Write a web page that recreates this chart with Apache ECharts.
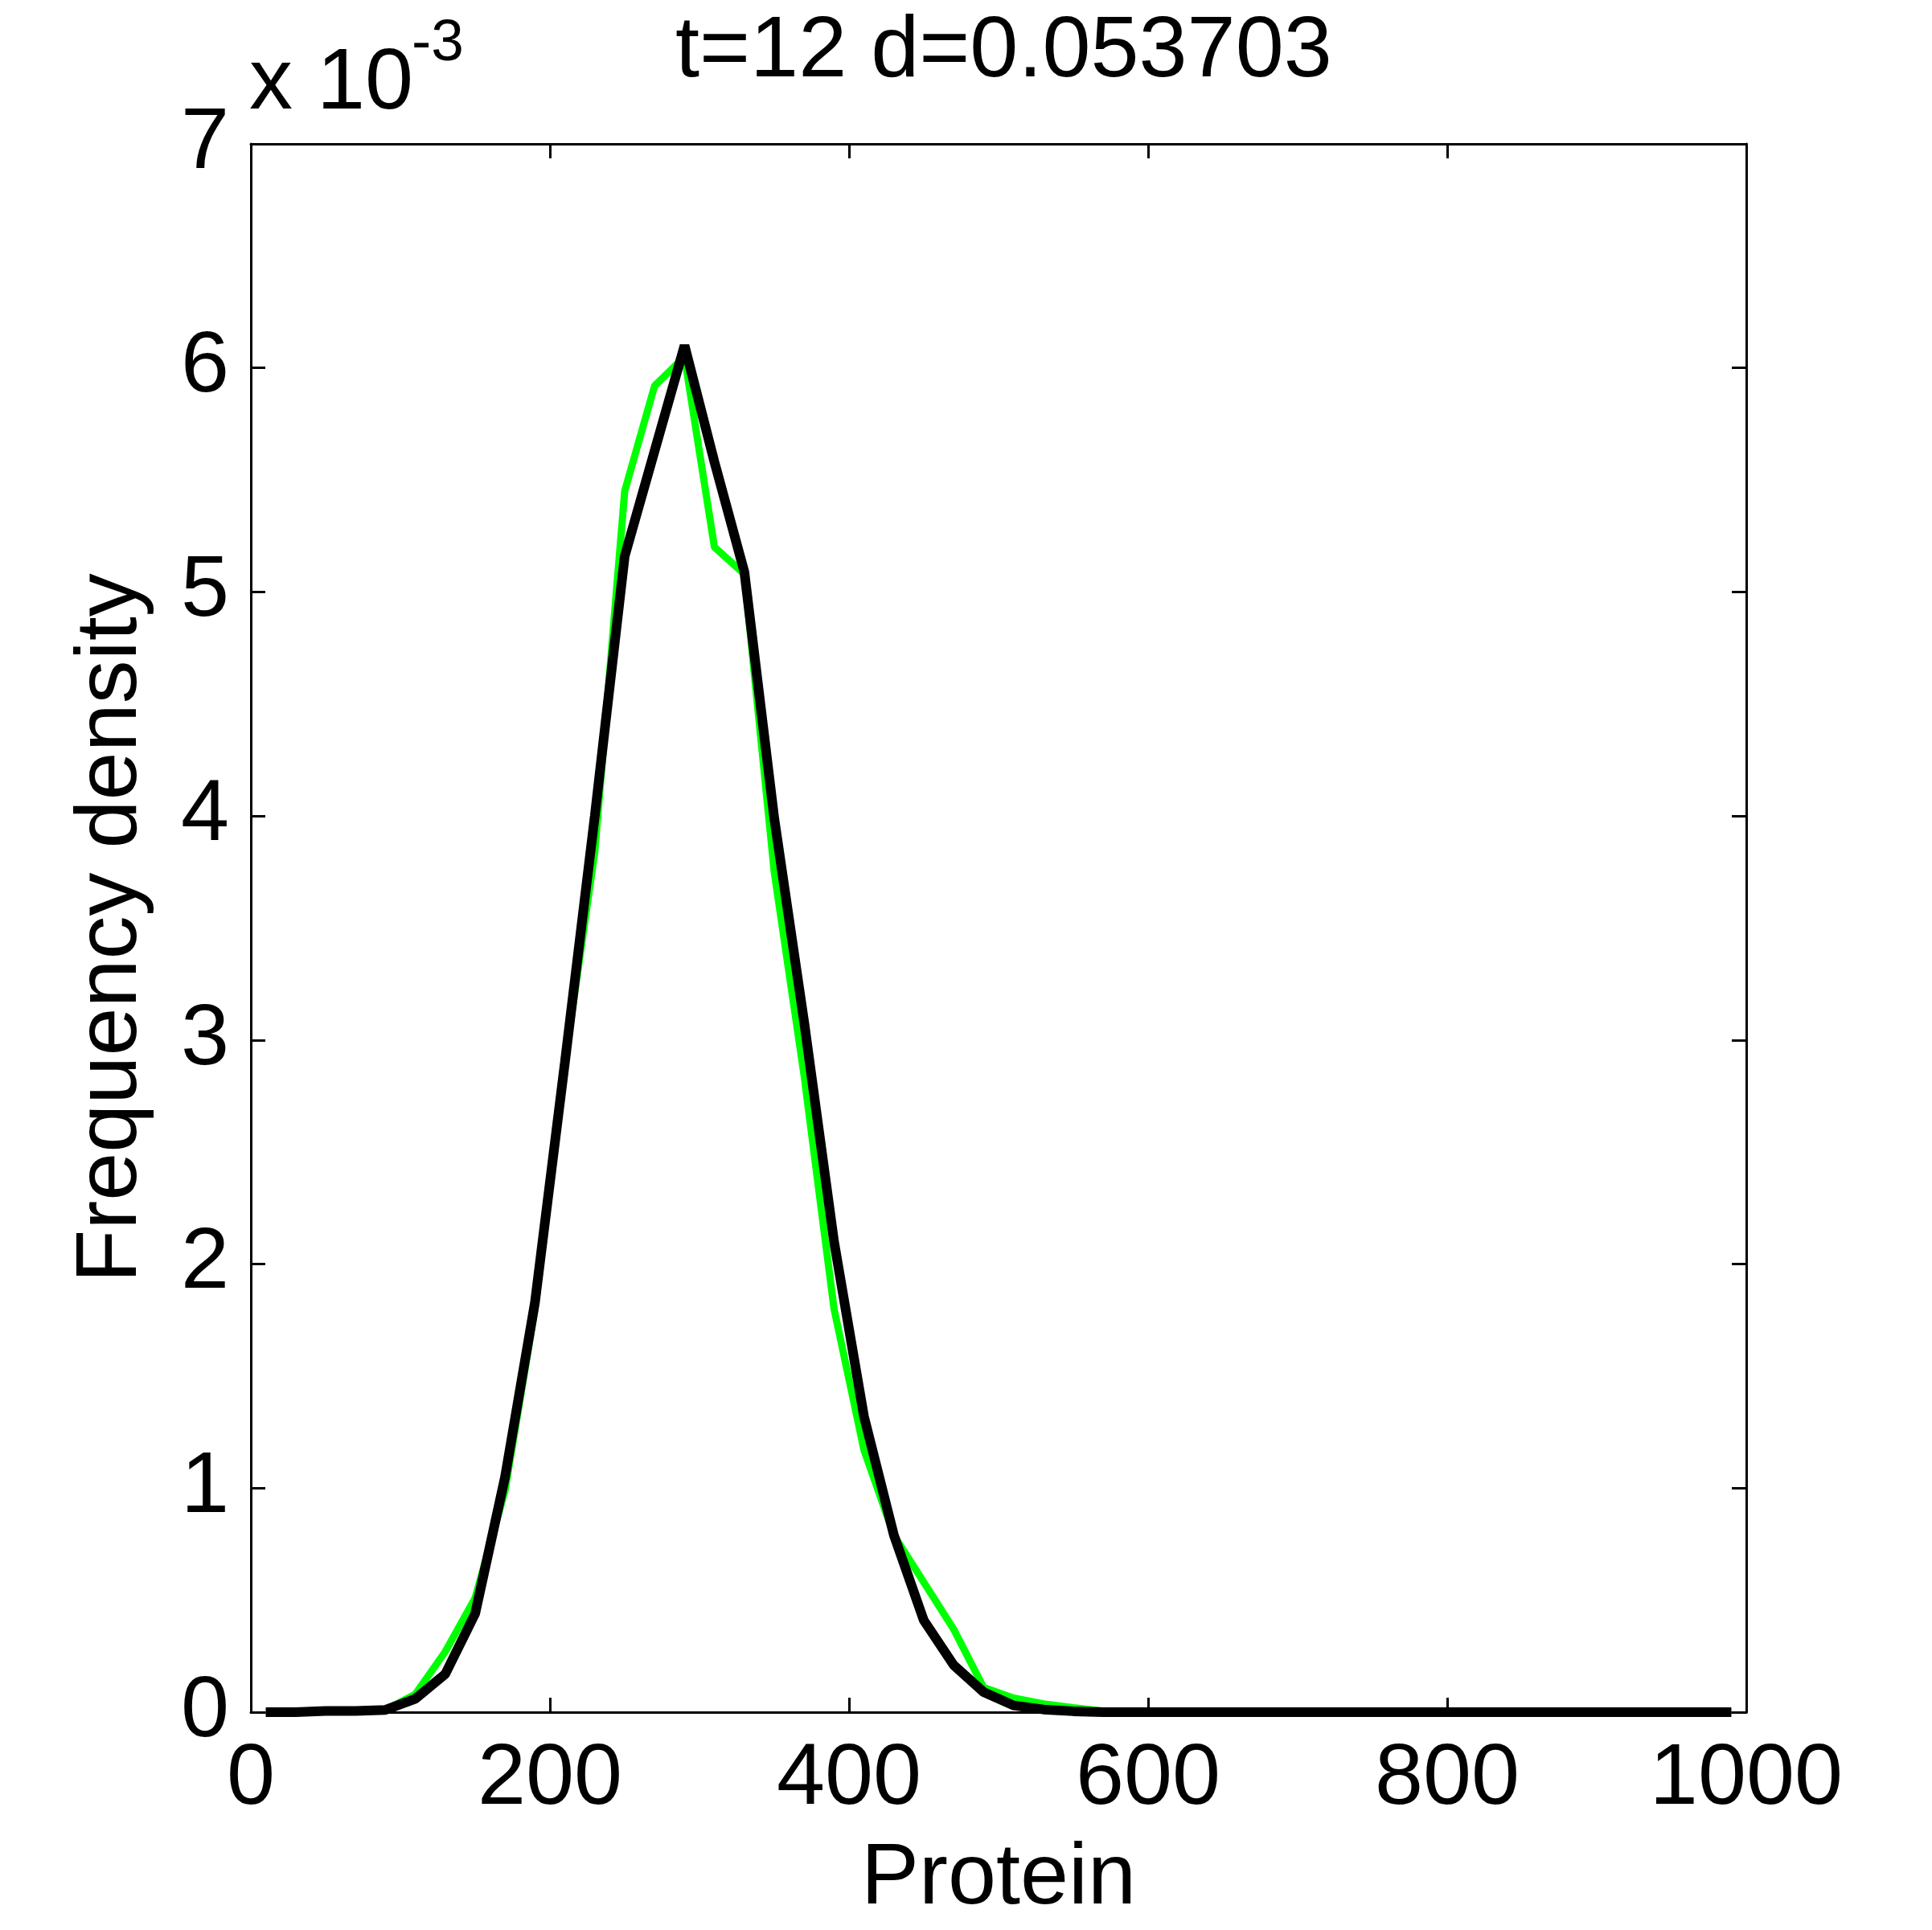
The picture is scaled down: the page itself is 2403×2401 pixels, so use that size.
<!DOCTYPE html>
<html>
<head>
<meta charset="utf-8">
<script src="https://cdn.jsdelivr.net/npm/echarts@6/dist/echarts.min.js"></script>
<style>
  html, body { margin: 0; padding: 0; background: #fff; }
  #chart { width: 2403px; height: 2401px; }
</style>
</head>
<body>
<div id="chart"></div>
<script>
// bin centres (Protein)
const protein = [10, 30, 50, 70, 90, 110, 130, 150, 170, 190, 210, 230, 250, 270, 290, 310, 330, 350, 370, 390,
  410, 430, 450, 470, 490, 510, 530, 550, 570, 590, 610, 630, 650, 670, 690, 710, 730, 750, 770, 790,
  810, 830, 850, 870, 890, 910, 930, 950, 970, 990];

// frequency density, in units of 1e-3
const greenDensity = [0, 0, 0.003, 0.005, 0.01, 0.08, 0.27, 0.51, 0.99, 1.8, 2.9, 3.84, 5.45, 5.92, 6.05, 5.2, 5.08, 3.75, 2.84, 1.8,
  1.17, 0.79, 0.58, 0.37, 0.11, 0.063, 0.037, 0.02, 0.005, 0.002, 0, 0, 0, 0, 0, 0, 0, 0, 0, 0,
  0, 0, 0, 0, 0, 0, 0, 0, 0, 0];
const blackDensity = [0, 0, 0.005, 0.005, 0.01, 0.06, 0.17, 0.44, 1.05, 1.83, 2.9, 4.0, 5.16, 5.63, 6.10, 5.58, 5.09, 3.99, 3.08, 2.1,
  1.32, 0.79, 0.41, 0.21, 0.09, 0.03, 0.012, 0.004, 0, 0, 0, 0, 0, 0, 0, 0, 0, 0, 0, 0,
  0, 0, 0, 0, 0, 0, 0, 0, 0, 0];

const xTicks = [0, 200, 400, 600, 800, 1000];
const yTicks = [0, 1, 2, 3, 4, 5, 6, 7]; // x 10^-3

const titleText = 't=12 d=0.053703';
const FONT = 'Liberation Sans, Arial, sans-serif';

const chart = echarts.init(document.getElementById('chart'));

const toPairs = (ys) => protein.map((x, i) => [x, ys[i] / 1000]);

const tickStyle = { show: true, inside: true, length: 18, lineStyle: { color: '#000', width: 3 } };
const lineStyle = { show: true, onZero: false, lineStyle: { color: '#000', width: 3 } };

const option = {
  animation: false,
  backgroundColor: '#fff',
  title: {
    text: titleText,
    left: 835,
    top: 6,
    textStyle: { fontFamily: FONT, fontSize: 108, fontWeight: 'normal', color: '#000', lineHeight: 108 }
  },
  graphic: [
    {
      type: 'text', left: 310, top: 51,
      style: { text: 'x 10', font: '108px ' + FONT, fill: '#000' }
    },
    {
      type: 'text', left: 512, top: 18,
      style: { text: '-3', font: '73px ' + FONT, fill: '#000' }
    }
  ],
  grid: { left: 312, right: 231, top: 179, bottom: 271, containLabel: false },
  xAxis: [
    {
      type: 'value', position: 'bottom',
      min: xTicks[0], max: xTicks[xTicks.length - 1], interval: 200,
      axisLine: lineStyle, axisTick: tickStyle, splitLine: { show: false },
      axisLabel: {
        fontFamily: FONT, fontSize: 108, color: '#000', margin: 30, lineHeight: 108,
        formatter: (v) => String(v)
      },
      name: 'Protein', nameLocation: 'middle', nameGap: 154,
      nameTextStyle: { fontFamily: FONT, fontSize: 108, color: '#000', lineHeight: 108 }
    },
    {
      type: 'value', position: 'top',
      min: xTicks[0], max: xTicks[xTicks.length - 1], interval: 200,
      axisLine: lineStyle, axisTick: tickStyle, splitLine: { show: false },
      axisLabel: { show: false }
    }
  ],
  yAxis: [
    {
      type: 'value', position: 'left',
      min: yTicks[0] / 1000, max: yTicks[yTicks.length - 1] / 1000, interval: 0.001,
      axisLine: lineStyle, axisTick: tickStyle, splitLine: { show: false },
      axisLabel: {
        fontFamily: FONT, fontSize: 108, color: '#000', margin: 27, lineHeight: 108,
        formatter: (v) => String(Math.round(v * 1000))
      },
      name: 'Frequency density', nameLocation: 'middle', nameGap: 119, nameRotate: 90,
      nameTextStyle: { fontFamily: FONT, fontSize: 108, color: '#000', lineHeight: 108 }
    },
    {
      type: 'value', position: 'right',
      min: yTicks[0] / 1000, max: yTicks[yTicks.length - 1] / 1000, interval: 0.001,
      axisLine: lineStyle, axisTick: tickStyle, splitLine: { show: false },
      axisLabel: { show: false }
    }
  ],
  series: [
    {
      name: 'green', type: 'line', data: toPairs(greenDensity),
      showSymbol: false, symbol: 'none',
      lineStyle: { color: '#00ff00', width: 9 }
    },
    {
      name: 'black', type: 'line', data: toPairs(blackDensity),
      showSymbol: false, symbol: 'none',
      lineStyle: { color: '#000000', width: 12 }
    }
  ]
};

chart.setOption(option);
</script>
</body>
</html>
